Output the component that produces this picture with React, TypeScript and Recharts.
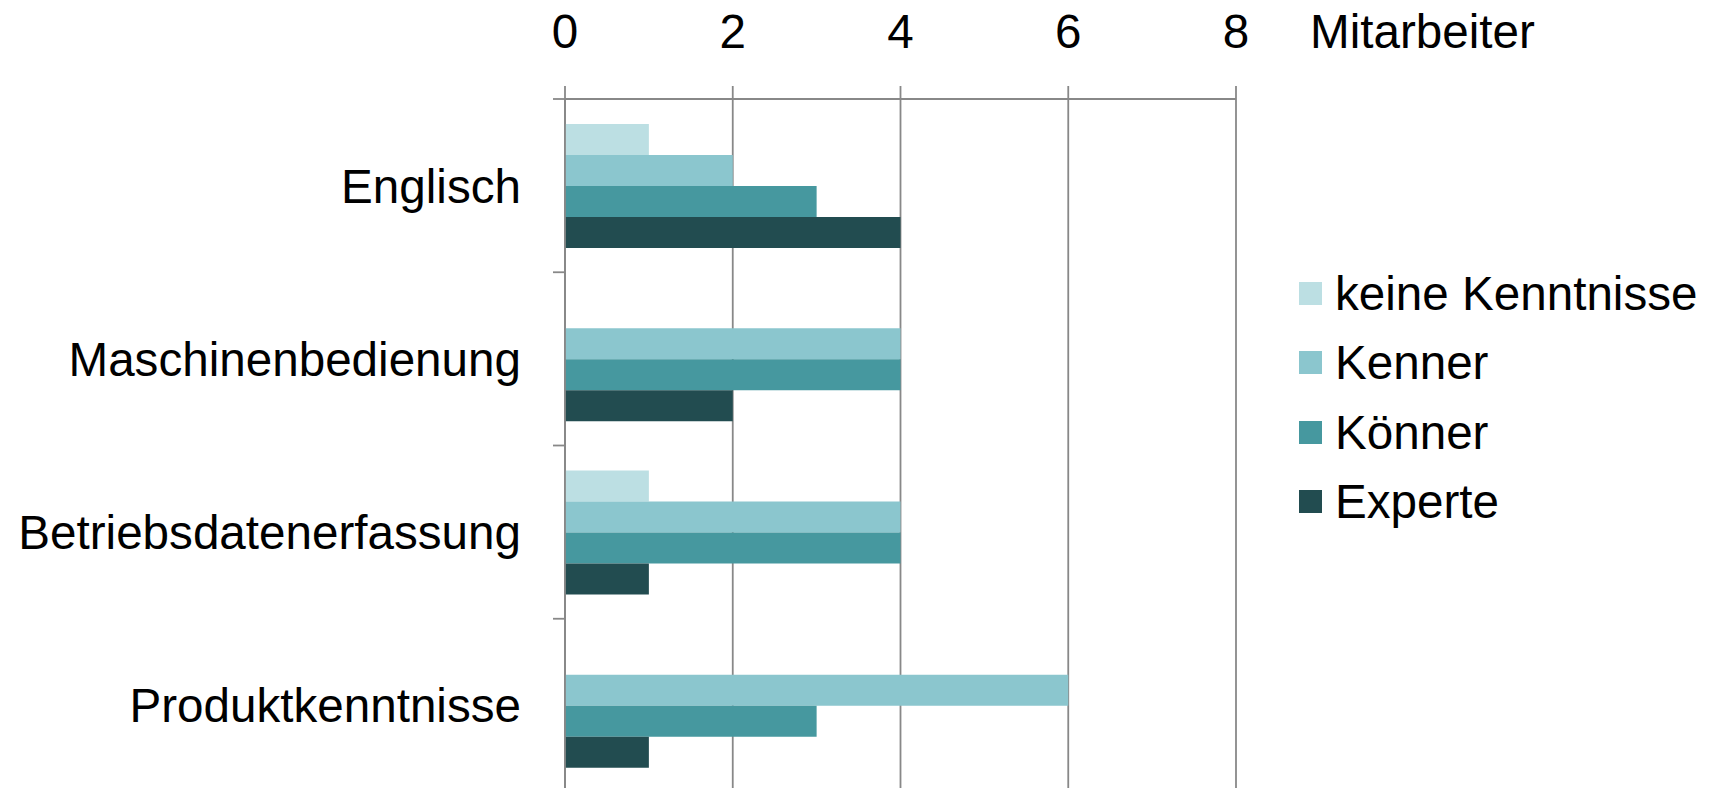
import React from 'react'
import { BarChart, Bar, XAxis, YAxis, CartesianGrid, Legend } from 'recharts'

const categories = ['Englisch', 'Maschinenbedienung', 'Betriebsdatenerfassung', 'Produktkenntnisse']
const keineKenntnisse = [1, 0, 1, 0]
const kenner = [2, 4, 4, 6]
const koenner = [3, 4, 4, 3]
const experte = [4, 2, 1, 1]
const xTicks = [0, 2, 4, 6, 8]
const axisTitle = 'Mitarbeiter'

const series = [
  { key: 'keine', name: 'keine Kenntnisse', color: '#bcdfe3' },
  { key: 'kenner', name: 'Kenner', color: '#8bc6ce' },
  { key: 'koenner', name: 'Könner', color: '#46989f' },
  { key: 'experte', name: 'Experte', color: '#224c50' },
]

const data = categories.map((name, i) => ({
  name,
  keine: keineKenntnisse[i],
  kenner: kenner[i],
  koenner: koenner[i],
  experte: experte[i],
}))

const FONT = '"Liberation Sans", Arial, Helvetica, sans-serif'
const FS = 47.6
const GRID = '#888888'

// category tick: label in the band centre, tick marks on the band borders
const CategoryTick = (props: any) => {
  const { x, y, payload, index, visibleTicksCount } = props
  const half = payload.offset ?? 0
  const x1 = x + 32
  const x2 = x + 44
  return (
    <g>
      <line x1={x1} x2={x2} y1={y - half} y2={y - half} stroke={GRID} strokeWidth={1.8} />
      {index === visibleTicksCount - 1 && (
        <line x1={x1} x2={x2} y1={y + half} y2={y + half} stroke={GRID} strokeWidth={1.8} />
      )}
      <text x={x} y={y} dy="0.355em" textAnchor="end" fill="#000" fontSize={FS} fontFamily={FONT}>
        {payload.value}
      </text>
    </g>
  )
}

const AxisTitle = (props: any) => {
  const vb = props.viewBox
  return (
    <text x={vb.x + vb.width + 74} y={vb.y + vb.height - 51} fill="#000" fontSize={FS} fontFamily={FONT}>
      {axisTitle}
    </text>
  )
}

const LegendBox = () => (
  <div style={{ fontFamily: FONT, fontSize: FS, color: '#000' }}>
    {series.map(s => (
      <div key={s.key} style={{ display: 'flex', alignItems: 'center', height: 69.3, whiteSpace: 'nowrap' }}>
        <span style={{ width: 23, height: 23, background: s.color, marginRight: 13, display: 'inline-block' }} />
        <span>{s.name}</span>
      </div>
    ))}
  </div>
)

export default function App() {
  return (
    <div style={{ position: 'fixed', left: 0, top: 0, width: 1709, height: 788, overflow: 'hidden', background: '#fff' }}>
      <BarChart
        width={1709}
        height={800}
        data={data}
        layout="vertical"
        margin={{ top: 0, right: 473, bottom: 8, left: 0 }}
        barCategoryGap={25}
        barGap={0}
      >
        <CartesianGrid horizontal={false} stroke={GRID} strokeWidth={1.8} />
        <XAxis
          type="number"
          orientation="top"
          domain={[0, 8]}
          ticks={xTicks}
          height={99}
          tickSize={13}
          tickMargin={38}
          axisLine={{ stroke: GRID, strokeWidth: 1.8 }}
          tickLine={{ stroke: GRID, strokeWidth: 1.8 }}
          tick={{ fill: '#000', fontSize: FS, fontFamily: FONT }}
          label={<AxisTitle />}
        />
        <YAxis
          type="category"
          dataKey="name"
          width={565}
          tickSize={12}
          tickMargin={32}
          tickLine={false}
          axisLine={{ stroke: GRID, strokeWidth: 1.8 }}
          tick={<CategoryTick />}
          interval={0}
        />
        <Legend
          layout="vertical"
          align="center"
          verticalAlign="middle"
          content={<LegendBox />}
          wrapperStyle={{ left: 1299, top: 259, width: 'auto' }}
        />
        {series.map(s => (
          <Bar key={s.key} dataKey={s.key} name={s.name} fill={s.color} isAnimationActive={false} />
        ))}
      </BarChart>
    </div>
  )
}
